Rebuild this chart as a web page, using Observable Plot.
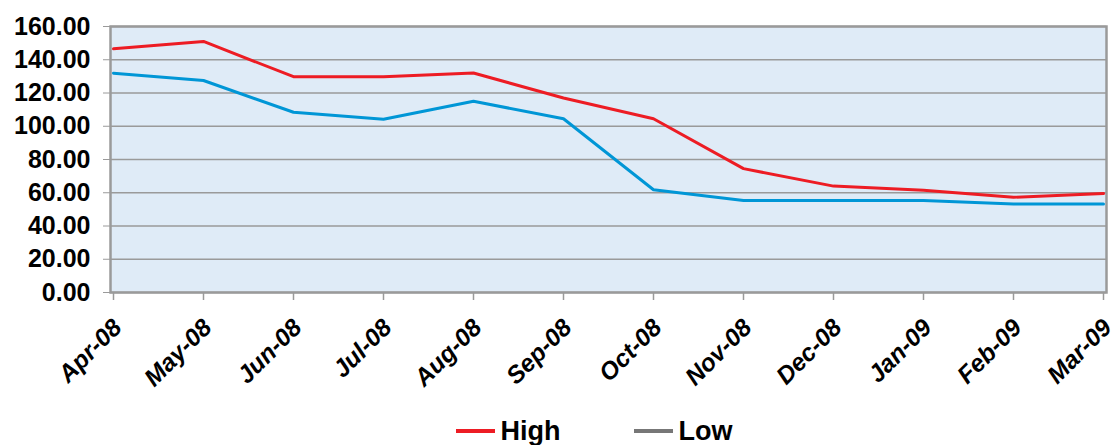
<!DOCTYPE html>
<html>
<head>
<meta charset="utf-8">
<script src="https://cdn.jsdelivr.net/npm/d3@7"></script>
<script src="https://cdn.jsdelivr.net/npm/@observablehq/plot@0.6"></script>
<style>
  html, body { margin: 0; padding: 0; background: #fff; }
  body { width: 1118px; font-family: "Liberation Sans", Arial, sans-serif; }
  #legend { display: flex; justify-content: center; align-items: center; margin-top: 16px; font-weight: bold; font-size: 27px; color: #000; line-height: 30px; padding-left: 70px; }
  .item { display: flex; align-items: center; }
  .swatch { display: inline-block; width: 39px; height: 4px; margin-right: 6px; }
</style>
</head>
<body>
<div id="chart"></div>
<div id="legend"></div>
<script>
const months = ["Apr-08","May-08","Jun-08","Jul-08","Aug-08","Sep-08","Oct-08","Nov-08","Dec-08","Jan-09","Feb-09","Mar-09"];
const high = [146.6, 151.0, 129.8, 129.8, 132.0, 117.0, 104.5, 74.5, 64.0, 61.5, 57.3, 59.5];
const low  = [131.9, 127.5, 108.4, 104.2, 115.0, 104.5, 61.8, 55.3, 55.3, 55.3, 53.3, 53.3];
const yTicks = [0, 20, 40, 60, 80, 100, 120, 140, 160];
const seriesNames = ["High", "Low"];
const seriesColors = ["#ED1C24", "#0096D6"];
const legendColors = ["#ED1C24", "#777777"];

const rows = [];
months.forEach((m, i) => {
  rows.push({month: m, value: high[i], series: seriesNames[0]});
  rows.push({month: m, value: low[i], series: seriesNames[1]});
});

const chart = Plot.plot({
  width: 1118,
  height: 400,
  marginLeft: 110,
  marginRight: 12,
  marginTop: 26,
  marginBottom: 108,
  style: {fontFamily: "'Liberation Sans', Arial, sans-serif", background: "#fff"},
  x: {type: "point", domain: months, padding: 0},
  y: {domain: [0, 160]},
  color: {domain: seriesNames, range: seriesColors},
  marks: [
    Plot.frame({fill: "#DFEBF7", stroke: null}),
    Plot.ruleY(yTicks, {stroke: "#9a9a9a", strokeWidth: 1.5}),
    Plot.frame({stroke: "#9a9a9a", strokeWidth: 2.5}),
    Plot.axisY(yTicks, {
      tickFormat: d => d.toFixed(2),
      tickSize: 7, tickPadding: 13,
      fontSize: 25, fontWeight: "bold", stroke: "#9a9a9a", color: "#000",
      label: null
    }),
    Plot.axisX(months, {tickSize: 8, stroke: "#9a9a9a", strokeWidth: 1.5, text: null, label: null}),
    Plot.text(months, {
      x: d => d, frameAnchor: "bottom",
      text: d => d, rotate: -45, textAnchor: "end", lineAnchor: "middle",
      dx: 4, dy: 31,
      fontSize: 24.5, fontWeight: "bold", fontStyle: "italic", fill: "#000"
    }),
    Plot.line(rows, {x: "month", y: "value", z: "series", stroke: "series", strokeWidth: 3, curve: "linear"})
  ]
});
document.getElementById("chart").appendChild(chart);

const legend = document.getElementById("legend");
seriesNames.forEach((name, i) => {
  const item = document.createElement("span");
  item.className = "item";
  if (i > 0) item.style.marginLeft = "73px";
  const sw = document.createElement("span");
  sw.className = "swatch";
  sw.style.background = legendColors[i];
  item.appendChild(sw);
  item.appendChild(document.createTextNode(name));
  legend.appendChild(item);
});
</script>
</body>
</html>
